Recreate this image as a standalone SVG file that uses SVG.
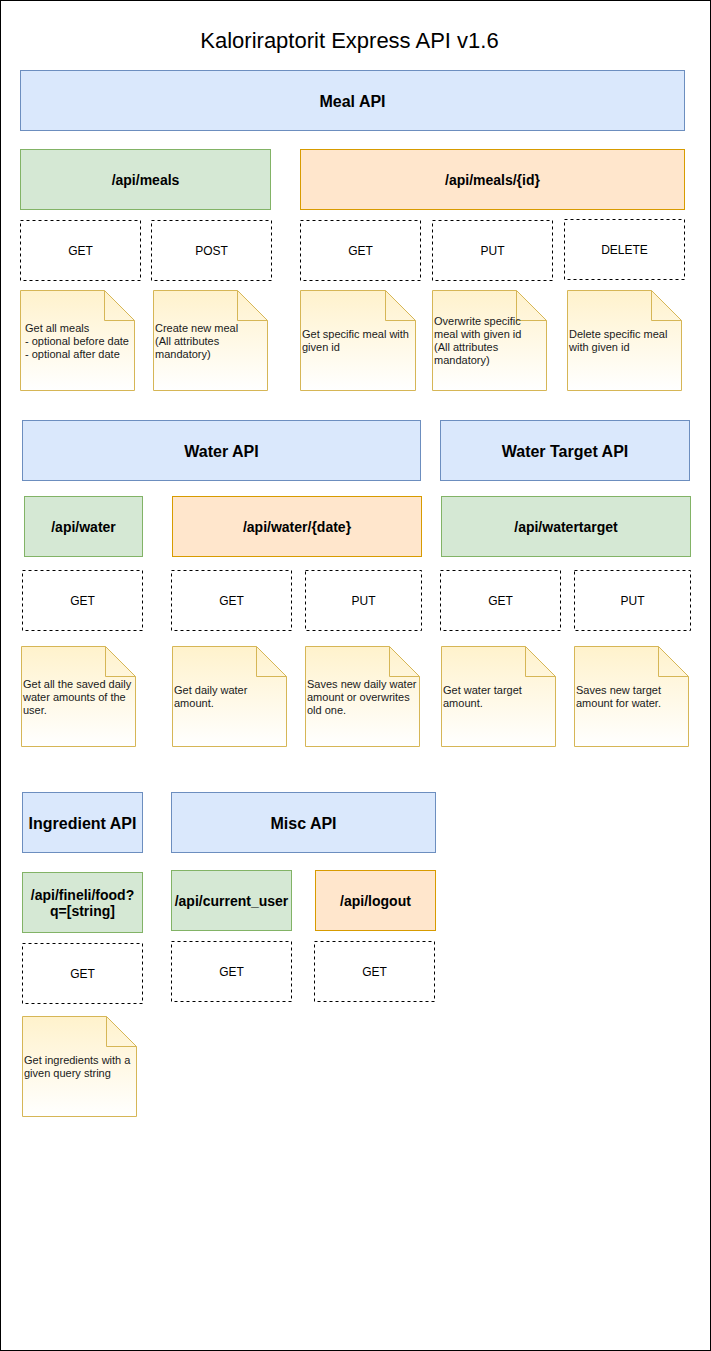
<svg xmlns="http://www.w3.org/2000/svg" width="711" height="1351" viewBox="0 0 711 1351">
<style>
.blue{fill:#dae8fc;stroke:#6c8ebf;stroke-width:1}
.green{fill:#d5e8d4;stroke:#82b366;stroke-width:1}
.orange{fill:#ffe6cc;stroke:#d79b00;stroke-width:1}
.meth{fill:#ffffff;stroke:#000000;stroke-width:1;stroke-dasharray:3 3}
.note{fill:url(#ng);stroke:#d6b656;stroke-width:1}
.fold{fill:none;stroke:#d6b656;stroke-width:1}
.t16{font-family:"Liberation Sans",Arial,sans-serif;font-size:16px;font-weight:bold;fill:#000;text-anchor:middle;dominant-baseline:central}
.t14{font-family:"Liberation Sans",Arial,sans-serif;font-size:14px;font-weight:bold;fill:#000;text-anchor:middle;dominant-baseline:central}
.t12{font-family:"Liberation Sans",Arial,sans-serif;font-size:12px;fill:#000;text-anchor:middle;dominant-baseline:central}
.t11{font-family:"Liberation Sans",Arial,sans-serif;font-size:11px;fill:#1a1a1a;dominant-baseline:central}
.title{font-family:"Liberation Sans",Arial,sans-serif;font-size:22px;fill:#000;text-anchor:middle;dominant-baseline:central}
</style>
<defs>
<linearGradient id="ng" x1="0" y1="0" x2="0" y2="1">
<stop offset="0" stop-color="#fff2cc"/>
<stop offset="1" stop-color="#ffffff"/>
</linearGradient>
</defs>
<rect x="0.5" y="0.5" width="710" height="1350" fill="#ffffff" stroke="#000000"/>
<g id="title"><text class="title" x="349.5" y="40">Kaloriraptorit Express API v1.6</text></g>

<g id="meal-api"><rect class="blue" x="20.5" y="70.5" width="664" height="60"/><text class="t16" x="352.5" y="101">Meal API</text></g>
<g id="api-meals"><rect class="green" x="20.5" y="149.5" width="250" height="60"/><text class="t14" x="145.5" y="180">/api/meals</text></g>
<g id="api-meals-id"><rect class="orange" x="300.5" y="149.5" width="384" height="60"/><text class="t14" x="492.5" y="180">/api/meals/{id}</text></g>

<g id="meals-get"><rect class="meth" x="20.5" y="220.5" width="120" height="60"/><text class="t12" x="80.5" y="251">GET</text></g>
<g id="meals-post"><rect class="meth" x="151.5" y="220.5" width="120" height="60"/><text class="t12" x="211.5" y="251">POST</text></g>
<g id="mealid-get"><rect class="meth" x="300.5" y="220.5" width="120" height="60"/><text class="t12" x="360.5" y="251">GET</text></g>
<g id="mealid-put"><rect class="meth" x="432.5" y="220.5" width="120" height="60"/><text class="t12" x="492.5" y="251">PUT</text></g>
<g id="mealid-delete"><rect class="meth" x="564.5" y="219.5" width="120" height="60"/><text class="t12" x="624.5" y="250">DELETE</text></g>

<g id="note-meals-get"><path class="note" d="M20.5 290.5 h84 l30 30 v70 h-114 z"/><path class="fold" d="M104.5 290.5 v30 h30"/>
<text class="t11" x="25" y="328">Get all meals</text><text class="t11" x="25" y="341">- optional before date</text><text class="t11" x="25" y="354">- optional after date</text></g>
<g id="note-meals-post"><path class="note" d="M153.5 290.5 h84 l30 30 v70 h-114 z"/><path class="fold" d="M237.5 290.5 v30 h30"/>
<text class="t11" x="155" y="328">Create new meal</text><text class="t11" x="155" y="341">(All attributes</text><text class="t11" x="155" y="354">mandatory)</text></g>
<g id="note-mealid-get"><path class="note" d="M300.5 290.5 h85 l30 30 v70 h-115 z"/><path class="fold" d="M385.5 290.5 v30 h30"/>
<text class="t11" x="302" y="334">Get specific meal with</text><text class="t11" x="302" y="347">given id</text></g>
<g id="note-mealid-put"><path class="note" d="M432.5 290.5 h84 l30 30 v70 h-114 z"/><path class="fold" d="M516.5 290.5 v30 h30"/>
<text class="t11" x="434" y="321">Overwrite specific</text><text class="t11" x="434" y="334">meal with given id</text><text class="t11" x="434" y="347">(All attributes</text><text class="t11" x="434" y="360">mandatory)</text></g>
<g id="note-mealid-delete"><path class="note" d="M567.5 290.5 h84 l30 30 v70 h-114 z"/><path class="fold" d="M651.5 290.5 v30 h30"/>
<text class="t11" x="569" y="334">Delete specific meal</text><text class="t11" x="569" y="347">with given id</text></g>

<g id="water-api"><rect class="blue" x="22.5" y="420.5" width="398" height="60"/><text class="t16" x="221.5" y="451">Water API</text></g>
<g id="water-target-api"><rect class="blue" x="440.5" y="420.5" width="249" height="60"/><text class="t16" x="565" y="451">Water Target API</text></g>
<g id="api-water"><rect class="green" x="24.5" y="496.5" width="118" height="60"/><text class="t14" x="83.5" y="527">/api/water</text></g>
<g id="api-water-date"><rect class="orange" x="172.5" y="496.5" width="249" height="60"/><text class="t14" x="297" y="527">/api/water/{date}</text></g>
<g id="api-watertarget"><rect class="green" x="441.5" y="496.5" width="249" height="60"/><text class="t14" x="566" y="527">/api/watertarget</text></g>

<g id="water-get"><rect class="meth" x="22.5" y="570.5" width="120" height="60"/><text class="t12" x="82.5" y="601">GET</text></g>
<g id="waterdate-get"><rect class="meth" x="171.5" y="570.5" width="120" height="60"/><text class="t12" x="231.5" y="601">GET</text></g>
<g id="waterdate-put"><rect class="meth" x="305.5" y="570.5" width="116" height="60"/><text class="t12" x="363.5" y="601">PUT</text></g>
<g id="watertarget-get"><rect class="meth" x="440.5" y="570.5" width="120" height="60"/><text class="t12" x="500.5" y="601">GET</text></g>
<g id="watertarget-put"><rect class="meth" x="574.5" y="570.5" width="116" height="60"/><text class="t12" x="632.5" y="601">PUT</text></g>

<g id="note-water-get"><path class="note" d="M21.5 646.5 h84 l30 30 v70 h-114 z"/><path class="fold" d="M105.5 646.5 v30 h30"/>
<text class="t11" x="23" y="684">Get all the saved daily</text><text class="t11" x="23" y="697">water amounts of the</text><text class="t11" x="23" y="710">user.</text></g>
<g id="note-waterdate-get"><path class="note" d="M172.5 646.5 h84 l30 30 v70 h-114 z"/><path class="fold" d="M256.5 646.5 v30 h30"/>
<text class="t11" x="174" y="690">Get daily water</text><text class="t11" x="174" y="703">amount.</text></g>
<g id="note-waterdate-put"><path class="note" d="M305.5 646.5 h84 l30 30 v70 h-114 z"/><path class="fold" d="M389.5 646.5 v30 h30"/>
<text class="t11" x="307" y="684">Saves new daily water</text><text class="t11" x="307" y="697">amount or overwrites</text><text class="t11" x="307" y="710">old one.</text></g>
<g id="note-watertarget-get"><path class="note" d="M441.5 646.5 h84 l30 30 v70 h-114 z"/><path class="fold" d="M525.5 646.5 v30 h30"/>
<text class="t11" x="443" y="690">Get water target</text><text class="t11" x="443" y="703">amount.</text></g>
<g id="note-watertarget-put"><path class="note" d="M574.5 646.5 h84 l30 30 v70 h-114 z"/><path class="fold" d="M658.5 646.5 v30 h30"/>
<text class="t11" x="576" y="690">Saves new target</text><text class="t11" x="576" y="703">amount for water.</text></g>

<g id="ingredient-api"><rect class="blue" x="22.5" y="792.5" width="120" height="60"/><text class="t16" x="82.5" y="823">Ingredient API</text></g>
<g id="misc-api"><rect class="blue" x="171.5" y="792.5" width="264" height="60"/><text class="t16" x="303.5" y="823">Misc API</text></g>
<g id="api-fineli"><rect class="green" x="22.5" y="872.5" width="120" height="60"/><text class="t14" x="82.5" y="895">/api/fineli/food?</text><text class="t14" x="82.5" y="911">q=[string]</text></g>
<g id="api-current-user"><rect class="green" x="171.5" y="870.5" width="120" height="60"/><text class="t14" x="231.5" y="901">/api/current_user</text></g>
<g id="api-logout"><rect class="orange" x="315.5" y="870.5" width="120" height="60"/><text class="t14" x="375.5" y="901">/api/logout</text></g>

<g id="fineli-get"><rect class="meth" x="22.5" y="943.5" width="120" height="60"/><text class="t12" x="82.5" y="974">GET</text></g>
<g id="currentuser-get"><rect class="meth" x="171.5" y="941.5" width="120" height="60"/><text class="t12" x="231.5" y="972">GET</text></g>
<g id="logout-get"><rect class="meth" x="314.5" y="941.5" width="120" height="60"/><text class="t12" x="374.5" y="972">GET</text></g>

<g id="note-fineli-get"><path class="note" d="M22.5 1016.5 h84 l30 30 v70 h-114 z"/><path class="fold" d="M106.5 1016.5 v30 h30"/>
<text class="t11" x="24" y="1060">Get ingredients with a</text><text class="t11" x="24" y="1073">given query string</text></g>

<g id="connectors"/>
</svg>
